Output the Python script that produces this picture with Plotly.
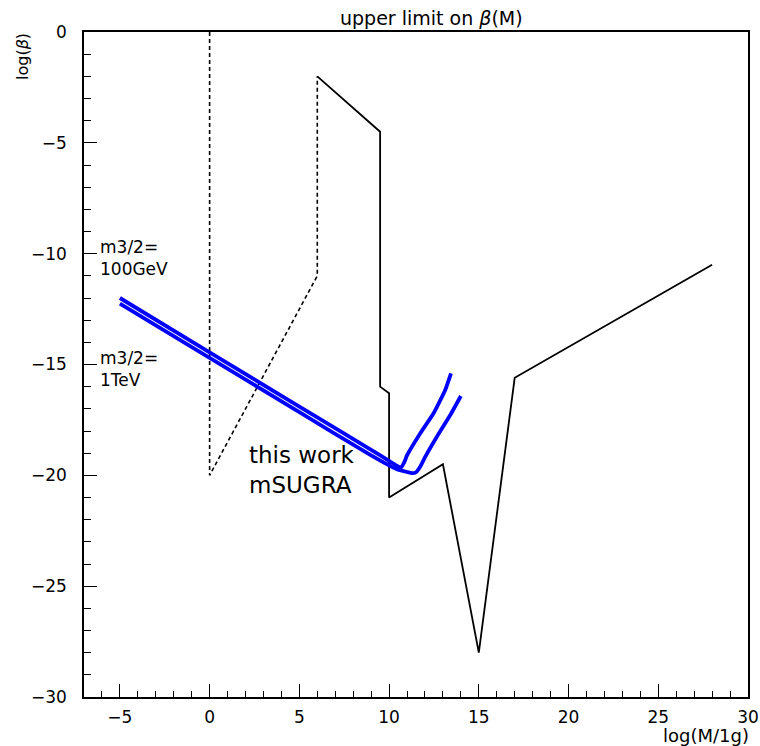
import plotly.graph_objects as go

# ---- data ----
# excluded region boundary: dotted part
dotted_x = [0, 0, 6, 6]
dotted_y = [0, -20, -11, -2]
# excluded region boundary: solid part
solid_x = [6, 9.5, 9.5, 10, 10, 13, 15, 17, 28]
solid_y = [-2, -4.5, -16, -16.3, -21, -19.5, -28, -15.6, -10.5]
# this work, mSUGRA, m3/2 = 100 GeV
gev100_x = [-5, 0, 5, 9, 10, 10.4, 10.65, 10.85, 11.0, 11.74, 12.48, 13.13, 13.45]
gev100_y = [-12.0, -14.45, -16.9, -18.85, -19.35, -19.55, -19.65, -19.4, -19.1, -18.1, -17.2, -16.15, -15.4]
# this work, mSUGRA, m3/2 = 1 TeV
tev1_x = [-5, 0, 5, 9, 10, 10.5, 11.0, 11.3, 11.5, 11.74, 12.02, 12.67, 13.41, 14.0]
tev1_y = [-12.25, -14.7, -17.15, -19.1, -19.55, -19.75, -19.85, -19.9, -19.86, -19.6, -19.16, -18.25, -17.28, -16.42]

x_ticks = [-5, 0, 5, 10, 15, 20, 25, 30]
y_ticks = [0, -5, -10, -15, -20, -25, -30]

FONT = "DejaVu Sans"

fig = go.Figure()
fig.add_trace(go.Scatter(x=dotted_x, y=dotted_y, mode="lines",
                         line=dict(color="black", width=1.6, dash="4px,3px"),
                         showlegend=False))
fig.add_trace(go.Scatter(x=solid_x, y=solid_y, mode="lines",
                         line=dict(color="black", width=1.8),
                         showlegend=False))
fig.add_trace(go.Scatter(x=gev100_x, y=gev100_y, mode="lines",
                         line=dict(color="#0000ff", width=3.8, shape="spline", smoothing=0.4),
                         showlegend=False))
fig.add_trace(go.Scatter(x=tev1_x, y=tev1_y, mode="lines",
                         line=dict(color="#0000ff", width=3.8, shape="spline", smoothing=0.4),
                         showlegend=False))

axis_common = dict(
    showgrid=False, zeroline=False, showline=True, linecolor="black", linewidth=1.5,
    mirror=True, ticks="inside", ticklen=13, tickwidth=1.2, tickcolor="black",
    tickfont=dict(family=FONT, size=17, color="black"), automargin=False,
)

fig.update_xaxes(range=[-7, 30], tickvals=x_ticks,
                 minor=dict(dtick=1, ticks="inside", ticklen=6, tickwidth=1.2, tickcolor="black"),
                 ticklabelstandoff=4, **axis_common)
fig.update_yaxes(range=[-30, 0], tickvals=y_ticks,
                 minor=dict(dtick=1, ticks="inside", ticklen=7, tickwidth=1.2, tickcolor="black"),
                 ticklabelstandoff=12, **axis_common)

annotations = [
    dict(text="upper limit on <i>β</i>(M)", xref="paper", yref="paper", x=0.524, y=1.0,
         yshift=14, showarrow=False, xanchor="center", yanchor="middle",
         font=dict(family=FONT, size=19, color="black")),
    dict(text="log(<i>β</i>)", xref="paper", yref="paper", x=0, xshift=-62, y=1.0, yshift=-25,
         textangle=-90, showarrow=False, xanchor="center", yanchor="middle",
         font=dict(family=FONT, size=16, color="black")),
    dict(text="log(M/1g)", xref="paper", yref="paper", x=1.0, xshift=3, y=0, yshift=-38,
         showarrow=False, xanchor="right", yanchor="middle",
         font=dict(family=FONT, size=18, color="black")),
    dict(text="m3/2=<br>100GeV", xref="x", yref="y", x=-6.2, y=-10.2,
         showarrow=False, xanchor="left", yanchor="middle", align="left",
         font=dict(family=FONT, size=17, color="black")),
    dict(text="m3/2=<br>1TeV", xref="x", yref="y", x=-6.2, y=-15.2,
         showarrow=False, xanchor="left", yanchor="middle", align="left",
         font=dict(family=FONT, size=17, color="black")),
    dict(text="this work<br>mSUGRA", xref="x", yref="y", x=2.1, y=-19.75,
         showarrow=False, xanchor="left", yanchor="middle", align="left",
         font=dict(family=FONT, size=23, color="black")),
]

fig.update_layout(
    width=760, height=746,
    margin=dict(l=84, r=12, t=32, b=49, autoexpand=False),
    plot_bgcolor="white", paper_bgcolor="white",
    annotations=annotations,
    showlegend=False,
)

# remove the default page margin so the figure fills the window exactly
fig.write_html("out.html", config={"displayModeBar": False},
               post_script="document.body.style.margin='0';document.body.style.overflow='hidden';")
